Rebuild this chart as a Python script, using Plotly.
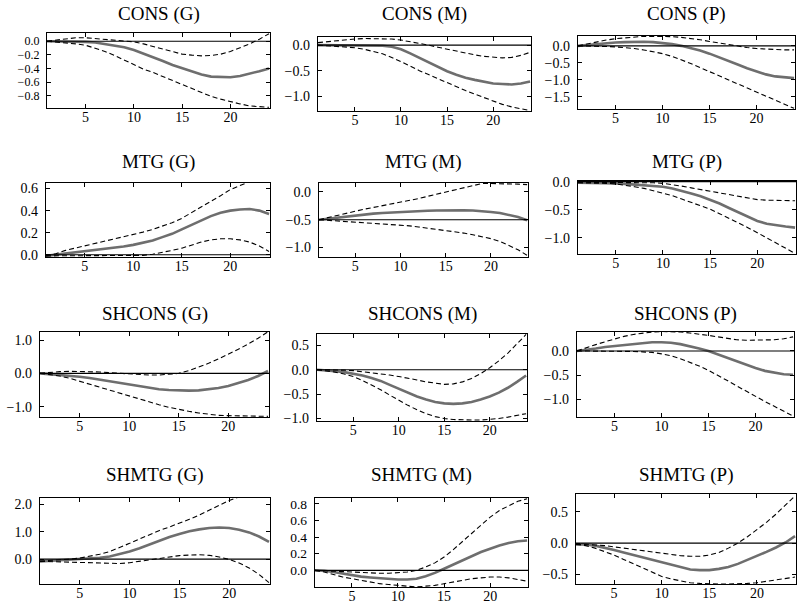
import plotly.graph_objects as go

# ---------------- data ----------------
horizon = list(range(1, 25))

panel_titles = ["CONS (G)", "CONS (M)", "CONS (P)",
                "MTG (G)", "MTG (M)", "MTG (P)",
                "SHCONS (G)", "SHCONS (M)", "SHCONS (P)",
                "SHMTG (G)", "SHMTG (M)", "SHMTG (P)"]

# reference (horizontal) level per panel
ref_levels = [0.0, 0.0, 0.0, 0.0, -0.5, 0.0, 0.0, 0.0, 0.0, 0.0, 0.0, 0.0]

cons_g_mid = [0, 0, 0, 0, -0.01, -0.02, -0.04, -0.06, -0.09, -0.13, -0.18, -0.23, -0.29, -0.35, -0.40, -0.45, -0.49, -0.52, -0.53, -0.53, -0.51, -0.48, -0.44, -0.40]
cons_g_up = [0, 0.02, 0.04, 0.05, 0.05, 0.04, 0.03, 0.02, 0.01, -0.01, -0.04, -0.08, -0.12, -0.16, -0.19, -0.205, -0.215, -0.21, -0.19, -0.15, -0.10, -0.04, 0.03, 0.11]
cons_g_lo = [0, -0.01, -0.02, -0.04, -0.06, -0.10, -0.15, -0.21, -0.28, -0.35, -0.41, -0.46, -0.52, -0.58, -0.64, -0.70, -0.76, -0.81, -0.85, -0.89, -0.92, -0.95, -0.96, -0.97]

cons_m_mid = [0, 0, 0, 0, 0, 0, 0, -0.01, -0.03, -0.08, -0.16, -0.25, -0.34, -0.43, -0.51, -0.58, -0.64, -0.68, -0.72, -0.75, -0.76, -0.77, -0.75, -0.71]
cons_m_up = [0.05, 0.07, 0.09, 0.11, 0.12, 0.13, 0.13, 0.13, 0.12, 0.10, 0.07, 0.03, 0.0, -0.04, -0.08, -0.12, -0.16, -0.19, -0.22, -0.24, -0.25, -0.24, -0.20, -0.14]
cons_m_lo = [0, -0.01, -0.02, -0.03, -0.05, -0.08, -0.12, -0.17, -0.24, -0.32, -0.41, -0.50, -0.58, -0.66, -0.74, -0.82, -0.89, -0.96, -1.03, -1.10, -1.16, -1.21, -1.25, -1.28]

cons_p_mid = [0, 0.03, 0.06, 0.08, 0.10, 0.11, 0.12, 0.12, 0.11, 0.09, 0.05, 0.0, -0.06, -0.14, -0.23, -0.33, -0.44, -0.55, -0.66, -0.76, -0.84, -0.90, -0.93, -0.95]
cons_p_up = [0.0, 0.06, 0.12, 0.17, 0.21, 0.24, 0.27, 0.28, 0.28, 0.28, 0.27, 0.25, 0.22, 0.18, 0.13, 0.08, 0.03, -0.01, -0.05, -0.08, -0.10, -0.11, -0.12, -0.12]
cons_p_lo = [0, 0, -0.01, -0.02, -0.03, -0.05, -0.08, -0.12, -0.17, -0.23, -0.31, -0.41, -0.52, -0.64, -0.76, -0.88, -1.00, -1.12, -1.24, -1.35, -1.47, -1.60, -1.72, -1.84]

mtg_g_mid = [-0.01, 0.0, 0.01, 0.02, 0.03, 0.04, 0.05, 0.06, 0.075, 0.09, 0.11, 0.13, 0.16, 0.19, 0.23, 0.27, 0.31, 0.35, 0.38, 0.40, 0.41, 0.415, 0.40, 0.37]
mtg_g_up = [-0.01, 0.01, 0.04, 0.06, 0.08, 0.10, 0.12, 0.14, 0.16, 0.18, 0.205, 0.23, 0.26, 0.29, 0.33, 0.38, 0.43, 0.48, 0.535, 0.59, 0.63, 0.67, 0.70, 0.72]
mtg_g_lo = [-0.01, -0.01, -0.01, -0.01, -0.01, -0.01, -0.01, -0.01, -0.01, -0.01, -0.005, 0.005, 0.02, 0.04, 0.06, 0.09, 0.115, 0.135, 0.145, 0.145, 0.135, 0.115, 0.08, 0.03]

mtg_m_mid = [-0.5, -0.48, -0.46, -0.44, -0.42, -0.405, -0.39, -0.38, -0.37, -0.36, -0.35, -0.345, -0.34, -0.335, -0.33, -0.33, -0.33, -0.335, -0.345, -0.36, -0.38, -0.41, -0.45, -0.51]
mtg_m_up = [-0.5, -0.46, -0.42, -0.38, -0.34, -0.31, -0.28, -0.25, -0.22, -0.19, -0.16, -0.12, -0.08, -0.04, 0.0, 0.04, 0.08, 0.12, 0.15, 0.15, 0.15, 0.14, 0.14, 0.13]
mtg_m_lo = [-0.5, -0.51, -0.52, -0.53, -0.54, -0.55, -0.56, -0.57, -0.58, -0.60, -0.61, -0.63, -0.65, -0.67, -0.69, -0.71, -0.74, -0.77, -0.80, -0.84, -0.89, -0.96, -1.04, -1.14]

mtg_p_mid = [-0.02, -0.02, -0.02, -0.03, -0.03, -0.04, -0.05, -0.06, -0.07, -0.09, -0.12, -0.16, -0.21, -0.26, -0.32, -0.39, -0.47, -0.55, -0.63, -0.70, -0.75, -0.78, -0.80, -0.82]
mtg_p_up = [-0.01, -0.01, -0.01, -0.01, -0.01, -0.01, -0.01, -0.01, -0.02, -0.03, -0.05, -0.08, -0.11, -0.14, -0.17, -0.20, -0.24, -0.27, -0.30, -0.32, -0.33, -0.33, -0.34, -0.34]
mtg_p_lo = [-0.02, -0.02, -0.02, -0.03, -0.04, -0.06, -0.09, -0.12, -0.16, -0.20, -0.25, -0.31, -0.37, -0.43, -0.49, -0.57, -0.65, -0.74, -0.82, -0.91, -1.0, -1.09, -1.18, -1.28]

shcons_g_mid = [0, -0.02, -0.04, -0.07, -0.10, -0.14, -0.19, -0.24, -0.30, -0.35, -0.40, -0.44, -0.48, -0.50, -0.52, -0.52, -0.51, -0.48, -0.44, -0.38, -0.30, -0.20, -0.08, 0.07]
shcons_g_up = [0, 0.03, 0.05, 0.06, 0.06, 0.05, 0.04, 0.02, 0.0, -0.02, -0.04, -0.05, -0.05, -0.03, 0.0, 0.08, 0.18, 0.30, 0.43, 0.57, 0.72, 0.88, 1.05, 1.25]
shcons_g_lo = [0, -0.03, -0.08, -0.15, -0.24, -0.32, -0.41, -0.50, -0.59, -0.68, -0.77, -0.86, -0.94, -1.02, -1.09, -1.14, -1.19, -1.23, -1.26, -1.27, -1.28, -1.29, -1.29, -1.29]

shcons_m_mid = [0, -0.01, -0.03, -0.05, -0.08, -0.12, -0.17, -0.23, -0.31, -0.39, -0.47, -0.55, -0.61, -0.66, -0.69, -0.70, -0.69, -0.66, -0.61, -0.55, -0.47, -0.37, -0.25, -0.12]
shcons_m_up = [0, 0, -0.01, -0.01, -0.02, -0.04, -0.06, -0.09, -0.11, -0.14, -0.17, -0.21, -0.25, -0.28, -0.30, -0.29, -0.25, -0.18, -0.08, 0.04, 0.18, 0.34, 0.52, 0.72]
shcons_m_lo = [0, -0.02, -0.05, -0.09, -0.14, -0.22, -0.31, -0.41, -0.52, -0.63, -0.73, -0.82, -0.90, -0.96, -1.00, -1.02, -1.03, -1.03, -1.03, -1.02, -1.00, -0.97, -0.94, -0.90]

shcons_p_mid = [0, 0.02, 0.05, 0.08, 0.10, 0.13, 0.15, 0.17, 0.18, 0.18, 0.17, 0.14, 0.10, 0.05, 0.0, -0.07, -0.14, -0.22, -0.29, -0.35, -0.41, -0.45, -0.48, -0.49]
shcons_p_up = [0, 0.07, 0.13, 0.19, 0.25, 0.30, 0.34, 0.37, 0.39, 0.40, 0.40, 0.39, 0.37, 0.35, 0.32, 0.29, 0.26, 0.23, 0.22, 0.22, 0.22, 0.23, 0.25, 0.29]
shcons_p_lo = [0, 0, 0, 0, 0, -0.01, -0.01, -0.02, -0.03, -0.06, -0.10, -0.16, -0.23, -0.31, -0.40, -0.50, -0.61, -0.72, -0.83, -0.94, -1.04, -1.14, -1.24, -1.34]

shmtg_g_mid = [-0.08, -0.06, -0.04, -0.02, 0.0, 0.02, 0.05, 0.10, 0.18, 0.28, 0.40, 0.54, 0.68, 0.81, 0.92, 1.02, 1.09, 1.14, 1.16, 1.14, 1.08, 0.98, 0.83, 0.63]
shmtg_g_up = [-0.07, -0.05, -0.03, 0.0, 0.04, 0.10, 0.18, 0.28, 0.42, 0.58, 0.74, 0.90, 1.05, 1.18, 1.31, 1.46, 1.62, 1.80, 1.98, 2.15, 2.28, 2.40, 2.50, 2.58]
shmtg_g_lo = [-0.08, -0.09, -0.10, -0.11, -0.12, -0.14, -0.16, -0.17, -0.16, -0.13, -0.08, -0.02, 0.04, 0.09, 0.13, 0.15, 0.16, 0.14, 0.08, -0.01, -0.14, -0.32, -0.56, -0.86]

shmtg_m_mid = [0, -0.005, -0.02, -0.04, -0.06, -0.075, -0.085, -0.095, -0.10, -0.11, -0.11, -0.10, -0.07, -0.03, 0.02, 0.07, 0.12, 0.17, 0.22, 0.26, 0.30, 0.33, 0.35, 0.36]
shmtg_m_up = [0, -0.005, -0.01, -0.02, -0.025, -0.03, -0.035, -0.035, -0.035, -0.03, -0.02, 0.0, 0.04, 0.09, 0.16, 0.25, 0.35, 0.45, 0.55, 0.64, 0.72, 0.78, 0.83, 0.86]
shmtg_m_lo = [0, -0.02, -0.05, -0.08, -0.10, -0.12, -0.14, -0.16, -0.17, -0.18, -0.19, -0.20, -0.19, -0.18, -0.16, -0.14, -0.12, -0.10, -0.09, -0.08, -0.08, -0.09, -0.11, -0.13]

shmtg_p_mid = [-0.02, -0.02, -0.04, -0.07, -0.11, -0.15, -0.19, -0.23, -0.27, -0.31, -0.35, -0.39, -0.42, -0.43, -0.43, -0.41, -0.38, -0.33, -0.27, -0.21, -0.14, -0.07, 0.01, 0.11]
shmtg_p_up = [-0.02, -0.02, -0.03, -0.04, -0.06, -0.08, -0.11, -0.13, -0.15, -0.17, -0.19, -0.20, -0.21, -0.21, -0.19, -0.15, -0.08, 0.0, 0.10, 0.21, 0.33, 0.46, 0.60, 0.75]
shmtg_p_lo = [-0.02, -0.04, -0.08, -0.13, -0.19, -0.26, -0.33, -0.40, -0.47, -0.53, -0.57, -0.60, -0.63, -0.64, -0.65, -0.65, -0.65, -0.65, -0.64, -0.63, -0.61, -0.59, -0.57, -0.54]

x_ticks = [5, 10, 15, 20]
y_ticks = [
    [0.0, -0.2, -0.4, -0.6, -0.8],
    [0.0, -0.5, -1.0],
    [0.0, -0.5, -1.0, -1.5],
    [0.0, 0.2, 0.4, 0.6],
    [0.0, -0.5, -1.0],
    [0.0, -0.5, -1.0],
    [1.0, 0.0, -1.0],
    [0.5, 0.0, -0.5, -1.0],
    [0.0, -0.5, -1.0],
    [2.0, 1.0, 0.0],
    [0.0, 0.2, 0.4, 0.6, 0.8],
    [0.5, 0.0, -0.5],
]

mids = [cons_g_mid, cons_m_mid, cons_p_mid, mtg_g_mid, mtg_m_mid, mtg_p_mid,
        shcons_g_mid, shcons_m_mid, shcons_p_mid, shmtg_g_mid, shmtg_m_mid, shmtg_p_mid]
ups = [cons_g_up, cons_m_up, cons_p_up, mtg_g_up, mtg_m_up, mtg_p_up,
       shcons_g_up, shcons_m_up, shcons_p_up, shmtg_g_up, shmtg_m_up, shmtg_p_up]
los = [cons_g_lo, cons_m_lo, cons_p_lo, mtg_g_lo, mtg_m_lo, mtg_p_lo,
       shcons_g_lo, shcons_m_lo, shcons_p_lo, shmtg_g_lo, shmtg_m_lo, shmtg_p_lo]

# ---------------- layout (pixels) ----------------
W, H = 797, 609
# plot boxes: (left, right, top, bottom) in pixels
boxes = [
    (47, 270, 33, 108), (318, 531, 37, 111), (578, 795, 36, 109),
    (46, 270, 183, 257), (319, 528, 183, 257), (578, 796, 181, 254),
    (40, 269, 332, 417), (317, 527, 334, 421), (577, 794, 332, 417),
    (40, 270, 498, 584), (315, 528, 498, 587), (576, 796, 494, 584),
]
y_ranges = [
    (-0.98, 0.12), (-1.29, 0.16), (-1.86, 0.29),
    (-0.02, 0.65), (-1.17, 0.16), (-1.29, 0.012),
    (-1.31, 1.24), (-1.05, 0.73), (-1.36, 0.39),
    (-0.91, 2.24), (-0.20, 0.87), (-0.65, 0.78),
]
tick_sizes = [12, 14, 14, 14, 14, 14, 14, 14, 14, 14, 13.5, 14]
title_centers = [14, 14, 14, 162, 162, 162, 314, 314, 314, 475, 475, 475]

FONT = "Liberation Serif, Times New Roman, serif"
fig = go.Figure()
layout = dict(
    width=W, height=H, autosize=False, margin=dict(l=0, r=0, t=0, b=0, pad=0),
    paper_bgcolor="white", plot_bgcolor="white", showlegend=False,
    font=dict(family=FONT, color="black", size=13),
)
annotations = []
for i in range(12):
    n = "" if i == 0 else str(i + 1)
    xa, ya = "x" + n, "y" + n
    l, r, t, b = boxes[i]
    for series, style in ((mids[i], dict(color="#6e6e6e", width=2.6)),
                          (ups[i], dict(color="black", width=1.1, dash="5px,3px")),
                          (los[i], dict(color="black", width=1.1, dash="5px,3px"))):
        fig.add_trace(go.Scatter(x=horizon, y=series, mode="lines", line=style,
                                 xaxis=xa, yaxis=ya, hoverinfo="skip"))
    fig.add_trace(go.Scatter(x=[horizon[0] - 1, horizon[-1] + 1], y=[ref_levels[i]] * 2,
                             mode="lines", line=dict(color="black", width=1.1),
                             xaxis=xa, yaxis=ya, hoverinfo="skip"))
    common = dict(showgrid=False, zeroline=False, showline=True, linecolor="black",
                  linewidth=1.4, mirror="ticks", ticks="inside", ticklen=4,
                  tickwidth=1, tickcolor="black", automargin=False)
    layout["xaxis" + n] = dict(domain=[l / W, r / W], range=[1, 24.1], anchor=ya,
                               tickvals=x_ticks, ticklabelstandoff=-4,
                               tickfont=dict(family=FONT, size=14, color="black"), **common)
    layout["yaxis" + n] = dict(domain=[1 - b / H, 1 - t / H], range=list(y_ranges[i]),
                               anchor=xa, tickvals=y_ticks[i], tickformat=".1f",
                               ticklabelstandoff=4,
                               tickfont=dict(family=FONT, size=tick_sizes[i], color="black"),
                               **common)
    annotations.append(dict(text=panel_titles[i], x=(l + r) / 2 / W, y=1 - title_centers[i] / H,
                            xref="paper", yref="paper", xanchor="center", yanchor="middle",
                            showarrow=False, font=dict(family=FONT, size=19, color="black")))
layout["annotations"] = annotations
fig.update_layout(**layout)

css_fix = (
    "var s=document.createElement('style');"
    "s.innerHTML='html,body{margin:0!important;padding:0!important;overflow:hidden!important;"
    "width:797px;height:609px;}';"
    "document.head.appendChild(s);"
)
fig.write_html("out.html", config={"displayModeBar": False, "responsive": False},
               post_script=css_fix)
